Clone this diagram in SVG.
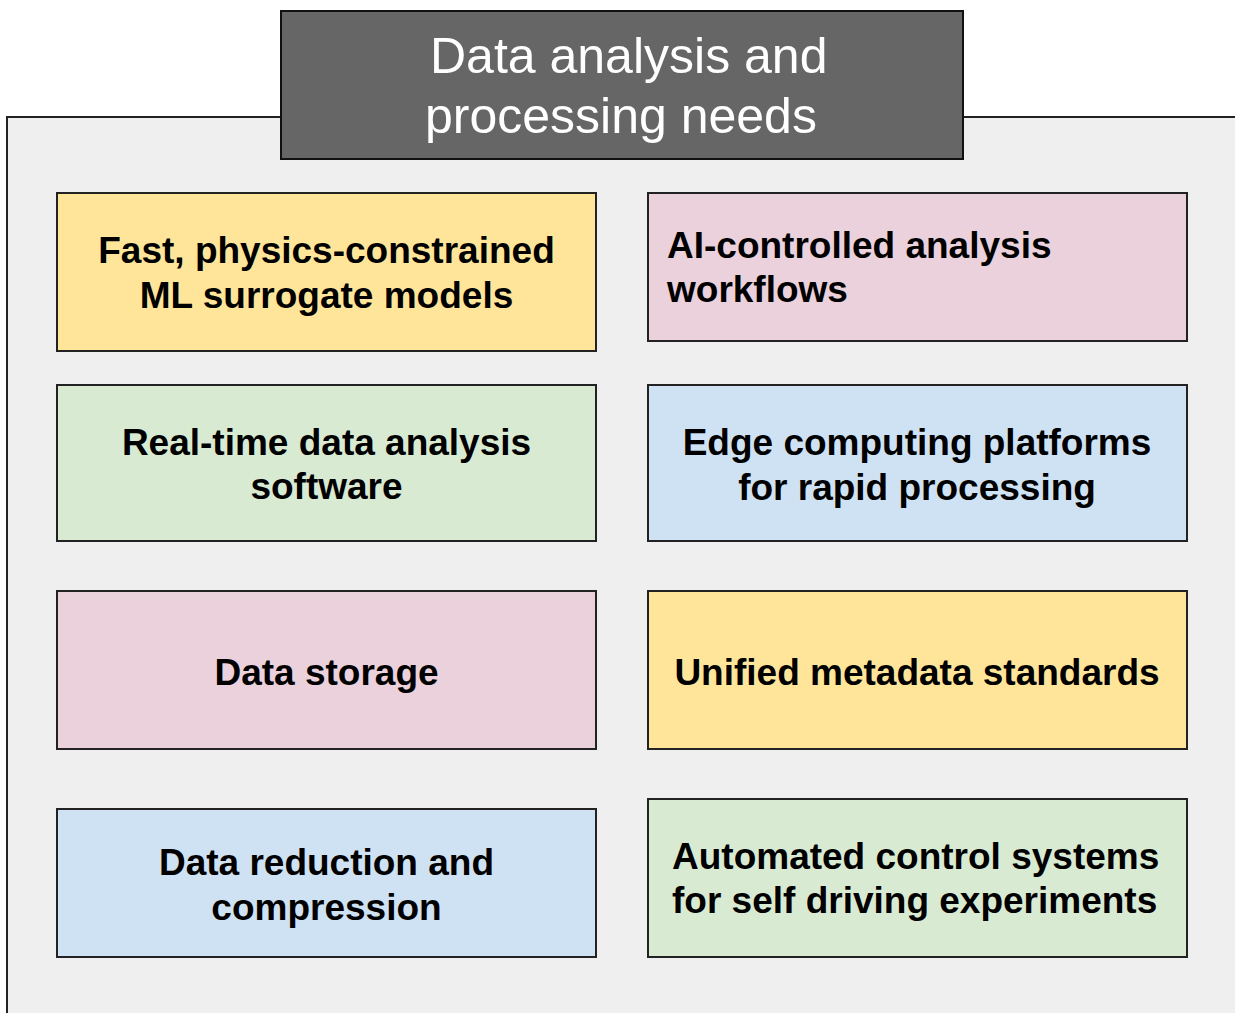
<svg xmlns="http://www.w3.org/2000/svg" width="1235" height="1013" viewBox="0 0 1235 1013">
<style>
.box{stroke:#222;stroke-width:2}
.lbl{font-family:"Liberation Sans",Arial,sans-serif;font-weight:bold;font-size:37px;fill:#000}
.c{text-anchor:middle}
.title{font-family:"Liberation Sans",Arial,sans-serif;font-size:50px;fill:#fff}
.y{fill:#ffe599}.p{fill:#ead1dc}.g{fill:#d9ead3}.b{fill:#cfe2f3}
</style>
<rect x="0" y="0" width="1235" height="1013" fill="#fff"/>
<g id="container">
<rect x="7" y="117" width="1240" height="910" fill="#efefef" stroke="#222" stroke-width="2"/>
</g>
<g id="title">
<rect x="281" y="11" width="682" height="148" fill="#666666" stroke="#111" stroke-width="2"/>
<text class="title" x="430" y="73">Data analysis and</text>
<text class="title" x="425" y="133">processing needs</text>
</g>
<g id="connectors"></g>
<g id="n1">
<rect class="box y" x="57" y="193" width="539" height="158"/>
<text class="lbl c" x="326.5" y="263">Fast, physics-constrained</text>
<text class="lbl c" x="326.5" y="308">ML surrogate models</text>
</g>
<g id="n2">
<rect class="box p" x="648" y="193" width="539" height="148"/>
<text class="lbl" x="667" y="258">AI-controlled analysis</text>
<text class="lbl" x="667" y="302">workflows</text>
</g>
<g id="n3">
<rect class="box g" x="57" y="385" width="539" height="156"/>
<text class="lbl c" x="326.5" y="455">Real-time data analysis</text>
<text class="lbl c" x="326.5" y="499">software</text>
</g>
<g id="n4">
<rect class="box b" x="648" y="385" width="539" height="156"/>
<text class="lbl c" x="917" y="455">Edge computing platforms</text>
<text class="lbl c" x="917" y="500">for rapid processing</text>
</g>
<g id="n5">
<rect class="box p" x="57" y="591" width="539" height="158"/>
<text class="lbl c" x="326.5" y="685">Data storage</text>
</g>
<g id="n6">
<rect class="box y" x="648" y="591" width="539" height="158"/>
<text class="lbl c" x="917" y="685">Unified metadata standards</text>
</g>
<g id="n7">
<rect class="box b" x="57" y="809" width="539" height="148"/>
<text class="lbl c" x="326.5" y="875">Data reduction and</text>
<text class="lbl c" x="326.5" y="920">compression</text>
</g>
<g id="n8">
<rect class="box g" x="648" y="799" width="539" height="158"/>
<text class="lbl" x="672" y="869">Automated control systems</text>
<text class="lbl" x="672" y="913">for self driving experiments</text>
</g>
</svg>
